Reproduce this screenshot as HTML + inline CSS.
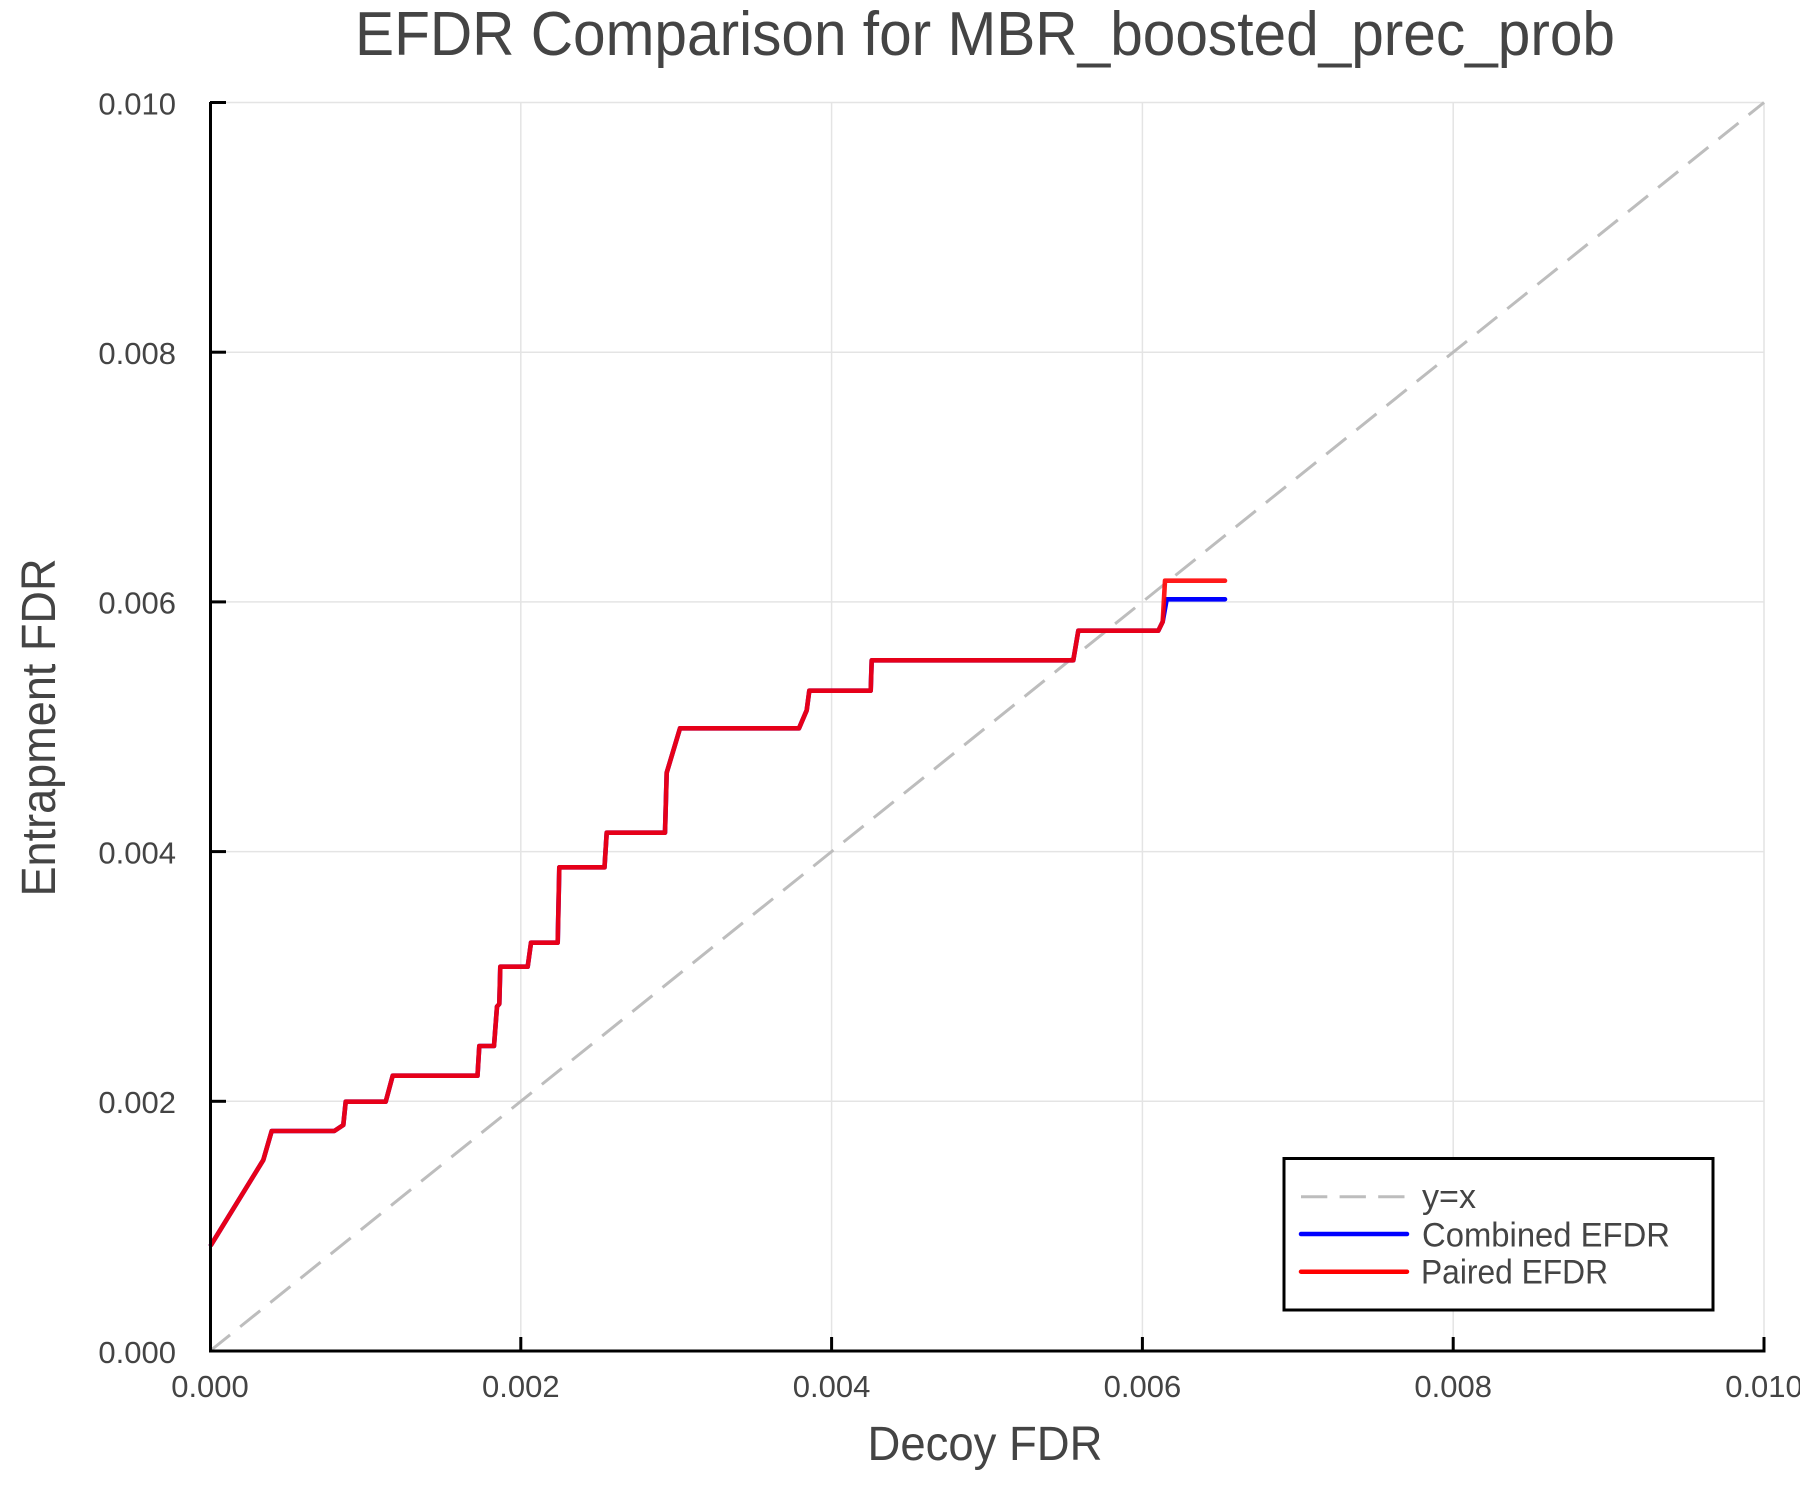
<!DOCTYPE html>
<html>
<head>
<meta charset="utf-8">
<style>
  html, body { margin: 0; padding: 0; background: #ffffff; }
  svg { display: block; }
  text { font-family: "Liberation Sans", "DejaVu Sans", sans-serif; fill: #444444; }
</style>
</head>
<body>
<svg width="1800" height="1500" viewBox="0 0 1800 1500" xmlns="http://www.w3.org/2000/svg">
  <rect x="0" y="0" width="1800" height="1500" fill="#ffffff"/>

  <!-- Title -->
  <text x="985" y="55" font-size="62" text-anchor="middle" textLength="1260" lengthAdjust="spacingAndGlyphs">EFDR Comparison for MBR_boosted_prec_prob</text>

  <!-- Grid -->
  <g stroke="#e4e4e4" stroke-width="1.5" fill="none">
    <line x1="520.8" y1="102.5" x2="520.8" y2="1351"/>
    <line x1="831.6" y1="102.5" x2="831.6" y2="1351"/>
    <line x1="1142.4" y1="102.5" x2="1142.4" y2="1351"/>
    <line x1="1453.2" y1="102.5" x2="1453.2" y2="1351"/>
    <line x1="1764" y1="102.5" x2="1764" y2="1351"/>
    <line x1="210" y1="1101.3" x2="1764" y2="1101.3"/>
    <line x1="210" y1="851.6" x2="1764" y2="851.6"/>
    <line x1="210" y1="601.9" x2="1764" y2="601.9"/>
    <line x1="210" y1="352.2" x2="1764" y2="352.2"/>
    <line x1="210" y1="102.5" x2="1764" y2="102.5"/>
  </g>

  <!-- y = x dashed -->
  <line x1="210" y1="1351" x2="1764" y2="102.5" stroke="#bdbdbd" stroke-width="3" stroke-dasharray="25.7 13"/>

  <!-- Combined EFDR (blue) -->
  <polyline fill="none" stroke="#0000ff" stroke-width="4.6" stroke-linejoin="round" stroke-linecap="round"
    points="211,1245 263.3,1160 271.7,1131 334.3,1131 343.3,1125 345.7,1101.7 385.7,1101.7 392.7,1075.7 477.5,1075.7 479.3,1046 494,1046 497,1006.5 499.3,1004 500.3,966.7 527.7,966.7 531,942.7 557.7,942.7 559.3,867.3 604.5,867.3 606.7,832.7 665,832.7 666.7,772.7 680,728.3 799,728.3 806.7,710.3 809.3,690.7 870.7,690.7 871.7,660.3 1073.3,660.3 1078.3,630.7 1158.3,630.7 1162.7,621.7 1166.7,599.3 1225,599.3"/>

  <!-- Paired EFDR (red) -->
  <polyline fill="none" stroke="#ff0000" stroke-opacity="0.9" stroke-width="4.6" stroke-linejoin="round" stroke-linecap="round"
    points="211,1245 263.3,1160 271.7,1131 334.3,1131 343.3,1125 345.7,1101.7 385.7,1101.7 392.7,1075.7 477.5,1075.7 479.3,1046 494,1046 497,1006.5 499.3,1004 500.3,966.7 527.7,966.7 531,942.7 557.7,942.7 559.3,867.3 604.5,867.3 606.7,832.7 665,832.7 666.7,772.7 680,728.3 799,728.3 806.7,710.3 809.3,690.7 870.7,690.7 871.7,660.3 1073.3,660.3 1078.3,630.7 1158.3,630.7 1162.7,621.7 1165,580.7 1225,580.7"/>

  <!-- Axes -->
  <g stroke="#000000" stroke-width="3" fill="none">
    <line x1="210.5" y1="102" x2="210.5" y2="1352.5"/>
    <line x1="209" y1="1351" x2="1765.5" y2="1351"/>
    <!-- y ticks -->
    <line x1="210" y1="1351" x2="226" y2="1351"/>
    <line x1="210" y1="1101.3" x2="226" y2="1101.3"/>
    <line x1="210" y1="851.6" x2="226" y2="851.6"/>
    <line x1="210" y1="601.9" x2="226" y2="601.9"/>
    <line x1="210" y1="352.2" x2="226" y2="352.2"/>
    <line x1="210" y1="102.5" x2="226" y2="102.5"/>
    <!-- x ticks -->
    <line x1="210.5" y1="1351" x2="210.5" y2="1337"/>
    <line x1="520.8" y1="1351" x2="520.8" y2="1337"/>
    <line x1="831.6" y1="1351" x2="831.6" y2="1337"/>
    <line x1="1142.4" y1="1351" x2="1142.4" y2="1337"/>
    <line x1="1453.2" y1="1351" x2="1453.2" y2="1337"/>
    <line x1="1764" y1="1351" x2="1764" y2="1337"/>
  </g>

  <!-- y tick labels -->
  <g font-size="31" text-anchor="end">
    <text x="176" y="1363">0.000</text>
    <text x="176" y="1113">0.002</text>
    <text x="176" y="863.5">0.004</text>
    <text x="176" y="613.5">0.006</text>
    <text x="176" y="364">0.008</text>
    <text x="176" y="114.5">0.010</text>
  </g>

  <!-- x tick labels -->
  <g font-size="31" text-anchor="middle">
    <text x="210" y="1397">0.000</text>
    <text x="520.8" y="1397">0.002</text>
    <text x="831.6" y="1397">0.004</text>
    <text x="1142.4" y="1397">0.006</text>
    <text x="1453.2" y="1397">0.008</text>
    <text x="1764" y="1397">0.010</text>
  </g>

  <!-- Axis labels -->
  <text x="985" y="1460" font-size="48" text-anchor="middle" textLength="235" lengthAdjust="spacingAndGlyphs">Decoy FDR</text>
  <text transform="translate(55,727.5) rotate(-90)" x="0" y="0" font-size="48" text-anchor="middle" textLength="338" lengthAdjust="spacingAndGlyphs">Entrapment FDR</text>

  <!-- Legend -->
  <rect x="1284" y="1158.5" width="429" height="151.5" fill="#ffffff" stroke="#000000" stroke-width="3"/>
  <line x1="1301" y1="1196.7" x2="1407" y2="1196.7" stroke="#bdbdbd" stroke-width="3" stroke-dasharray="26.3 12.3"/>
  <line x1="1301" y1="1234" x2="1407" y2="1234" stroke="#0000ff" stroke-width="4.5" stroke-linecap="round"/>
  <line x1="1301" y1="1271.7" x2="1407" y2="1271.7" stroke="#ff0000" stroke-width="4.5" stroke-linecap="round"/>
  <g font-size="34">
    <text x="1422" y="1208" textLength="54" lengthAdjust="spacingAndGlyphs">y=x</text>
    <text x="1422" y="1246.7" textLength="248" lengthAdjust="spacingAndGlyphs">Combined EFDR</text>
    <text x="1421" y="1283.5" textLength="187" lengthAdjust="spacingAndGlyphs">Paired EFDR</text>
  </g>
</svg>
</body>
</html>
